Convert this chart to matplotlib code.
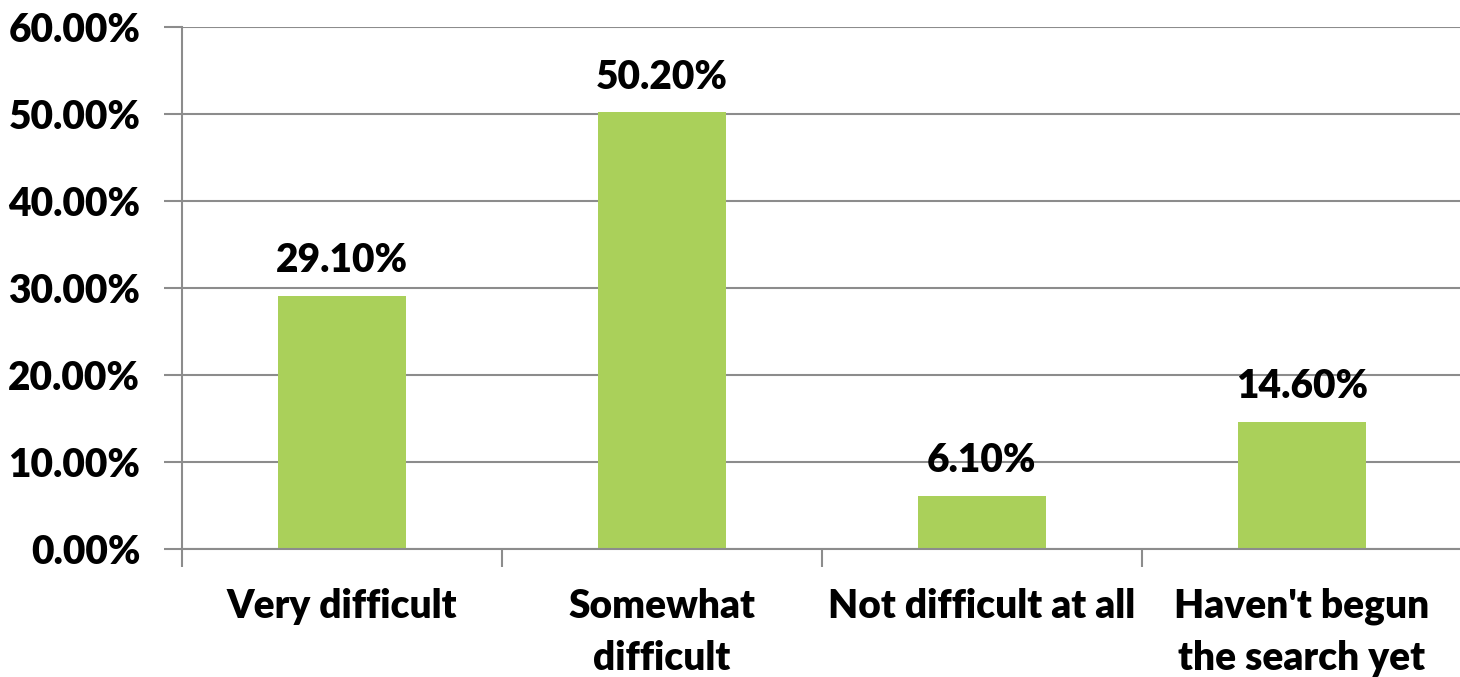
import matplotlib
matplotlib.use("Agg")
import matplotlib.pyplot as plt
from matplotlib.ticker import FixedLocator

categories = ["Very difficult", "Somewhat\ndifficult", "Not difficult at all", "Haven't begun\nthe search yet"]
values = [29.10, 50.20, 6.10, 14.60]
yticks = [0, 10, 20, 30, 40, 50, 60]

BAR = "#AAD05A"
AXIS = "#8C8C8C"
FONT = ["Lato", "DejaVu Sans"]
SIZE = 28
WEIGHT = "heavy"

fig = plt.figure(figsize=(14.6, 6.77), dpi=100)
ax = fig.add_axes([182 / 1460, 1 - 549 / 677, 1280 / 1460, 522 / 677])

x = list(range(len(categories)))
ax.bar(x, values, width=0.4, color=BAR, zorder=3)

for xi, v in zip(x, values):
    ax.annotate(f"{v:.2f}%", (xi, v), xytext=(0, 12), textcoords="offset points",
                ha="center", va="bottom", fontsize=SIZE, fontweight=WEIGHT,
                family=FONT, color="#000000")

ax.set_xlim(-0.5, 3.5)
ax.set_ylim(0, 60)
ax.set_yticks(yticks)
ax.set_yticklabels([f"{t:.2f}%" for t in yticks], fontsize=SIZE, fontweight=WEIGHT, family=FONT)
ax.yaxis.grid(True, color=AXIS, linewidth=1.5, zorder=0)

ax.set_xticks(x)
ax.set_xticklabels(categories, fontsize=SIZE, fontweight=WEIGHT, family=FONT, linespacing=1.5)
ax.xaxis.set_minor_locator(FixedLocator([-0.5, 0.5, 1.5, 2.5, 3.5]))
ax.tick_params(axis="x", which="major", length=0, pad=28)
ax.tick_params(axis="x", which="minor", length=13, width=1.5, color=AXIS)
ax.tick_params(axis="y", length=13, width=1.5, color=AXIS, pad=17)

for side in ("top", "right"):
    ax.spines[side].set_visible(False)
for side in ("left", "bottom"):
    ax.spines[side].set_color(AXIS)
    ax.spines[side].set_linewidth(1.5)
    ax.spines[side].set_zorder(4)

fig.savefig("out.png", dpi=100, facecolor="white")
